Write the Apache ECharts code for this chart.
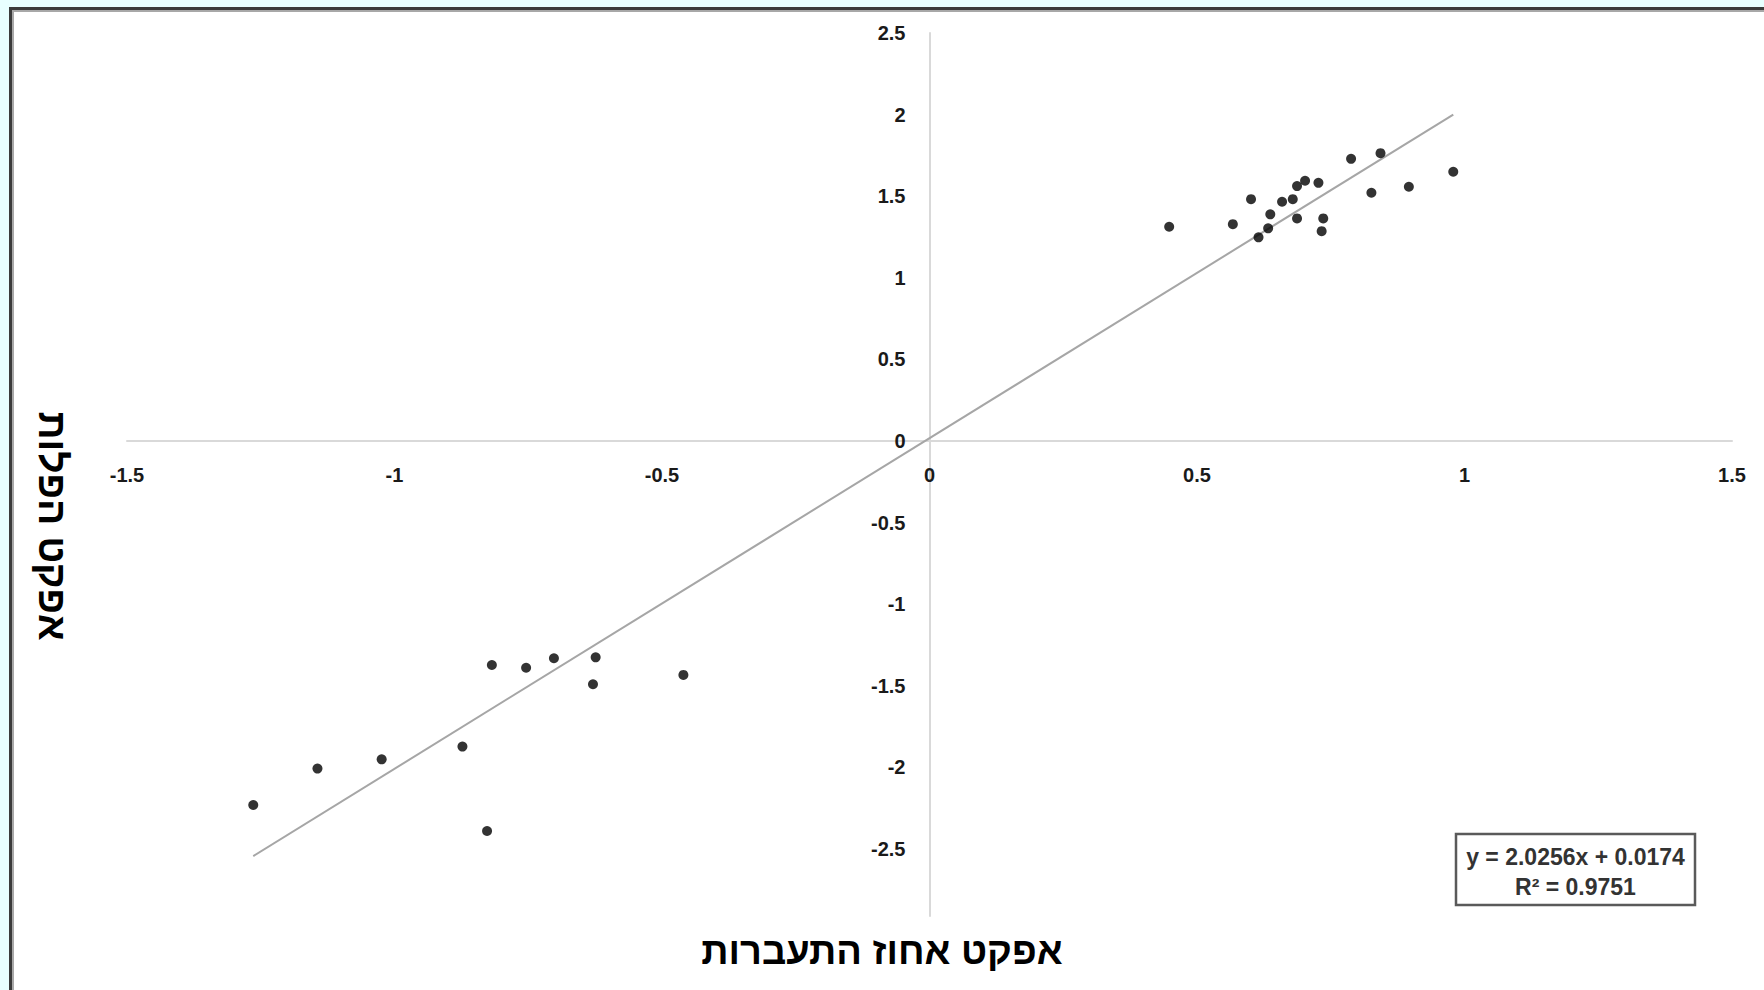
<!DOCTYPE html>
<html>
<head>
<meta charset="utf-8">
<script src="https://cdn.jsdelivr.net/npm/echarts@6/dist/echarts.min.js"></script>
<style>
  html, body { margin: 0; padding: 0; width: 1764px; height: 990px; overflow: hidden; background: #e8ffff; }
  #frame { position: absolute; left: 9px; top: 7px; width: 1760px; height: 990px; background: #ffffff;
           border-left: 3px solid #3b3b3b; border-top: 3px solid #3b3b3b; box-shadow: inset 2px 2px 0 #a8a8a8; }
  #chart { position: absolute; left: 0; top: 0; width: 1764px; height: 990px; }
</style>
</head>
<body>
<div id="frame"></div>
<div id="chart"></div>
<script>
// ---- data ----
const xTitle = 'אפקט אחוז התעברות';
const yTitle = 'אפקט הפלות';
const xTicks = [-1.5, -1, -0.5, 0, 0.5, 1, 1.5];
const yTicks = [-2.5, -2, -1.5, -1, -0.5, 0, 0.5, 1, 1.5, 2, 2.5];
const xValues = [
  0.448, 0.567, 0.601, 0.615, 0.633, 0.637, 0.659, 0.679, 0.687, 0.687,
  0.702, 0.727, 0.736, 0.733, 0.788, 0.826, 0.843, 0.896, 0.979,
  -1.264, -1.144, -1.024, -0.873, -0.818, -0.827, -0.754, -0.702, -0.624, -0.629, -0.460
];
const yValues = [
  1.313, 1.329, 1.482, 1.248, 1.303, 1.389, 1.466, 1.482, 1.562, 1.364,
  1.595, 1.582, 1.364, 1.286, 1.729, 1.521, 1.764, 1.558, 1.650,
  -2.230, -2.007, -1.950, -1.872, -1.372, -2.389, -1.389, -1.331, -1.325, -1.490, -1.433
];
const trendSlope = 2.0256;
const trendIntercept = 0.0174;
const trendR2 = 0.9751;
const yAxisMin = -2.91;

// ---- build ----
const points = xValues.map((x, i) => [x, yValues[i]]);
const xMin = Math.min(...xValues), xMax = Math.max(...xValues);
const trendData = [xMin, xMax].map(x => [x, trendSlope * x + trendIntercept]);
const eqLine1 = 'y = ' + trendSlope.toFixed(4) + 'x + ' + trendIntercept.toFixed(4);
const eqLine2 = 'R² = ' + trendR2.toFixed(4);

const FONT = '"Liberation Sans", "DejaVu Sans", Arial, sans-serif';
const chart = echarts.init(document.getElementById('chart'), null, { renderer: 'svg' });

chart.setOption({
  backgroundColor: 'transparent',
  animation: false,
  grid: { left: 127, right: 32, top: 33, bottom: 74, containLabel: false },
  xAxis: {
    type: 'value', min: xTicks[0], max: xTicks[xTicks.length - 1], interval: 0.5,
    axisLine: { onZero: false, lineStyle: { color: '#d9d9d9', width: 2 } },
    axisTick: { show: false },
    splitLine: { show: false },
    axisLabel: { margin: 24, color: '#1a1a1a', fontWeight: 'bold', fontSize: 20, fontFamily: FONT,
                 customValues: xTicks }
  },
  yAxis: {
    type: 'value', min: yAxisMin, max: yTicks[yTicks.length - 1],
    axisLine: { onZero: false, lineStyle: { color: '#d9d9d9', width: 2 } },
    axisTick: { show: false },
    splitLine: { show: false },
    axisLabel: { margin: 24, color: '#1a1a1a', fontWeight: 'bold', fontSize: 20, fontFamily: FONT,
                 customValues: yTicks }
  },
  series: [
    {
      type: 'line', data: trendData, symbol: 'none', silent: true,
      lineStyle: { color: '#a6a6a6', width: 2 }, z: 1
    },
    {
      type: 'scatter', data: points, symbol: 'circle', symbolSize: 10,
      itemStyle: { color: '#000000' }, z: 3
    }
  ],
  graphic: [
    {
      type: 'text', left: 'center', top: 932,
      style: { text: xTitle, font: 'bold 38px ' + FONT, fill: '#000' }
    },
    {
      type: 'text', x: 52, y: 526, rotation: -Math.PI / 2,
      style: { text: yTitle, font: 'bold 39px ' + FONT, fill: '#000', align: 'center', verticalAlign: 'middle' }
    },
    {
      type: 'group', x: 1456, y: 834,
      children: [
        { type: 'rect', shape: { x: 0, y: 0, width: 239, height: 71 },
          style: { fill: '#ffffff', stroke: '#5a5a5a', lineWidth: 2.5 } },
        { type: 'text', x: 119.5, y: 23,
          style: { text: eqLine1, font: 'bold 23px ' + FONT, fill: '#333', align: 'center', verticalAlign: 'middle' } },
        { type: 'text', x: 119.5, y: 53,
          style: { text: eqLine2, font: 'bold 23px ' + FONT, fill: '#333', align: 'center', verticalAlign: 'middle' } }
      ]
    }
  ]
});

// Move both axes (line + labels) so they cross at the data origin, using the library's own scales.
const zeroX = chart.convertToPixel({ xAxisIndex: 0 }, 0);
const leftX = chart.convertToPixel({ xAxisIndex: 0 }, xTicks[0]);
const zeroY = chart.convertToPixel({ yAxisIndex: 0 }, 0);
const bottomY = chart.convertToPixel({ yAxisIndex: 0 }, yAxisMin);
chart.setOption({
  xAxis: { offset: -(bottomY - zeroY) },
  yAxis: { offset: -(zeroX - leftX) }
});
</script>
</body>
</html>
